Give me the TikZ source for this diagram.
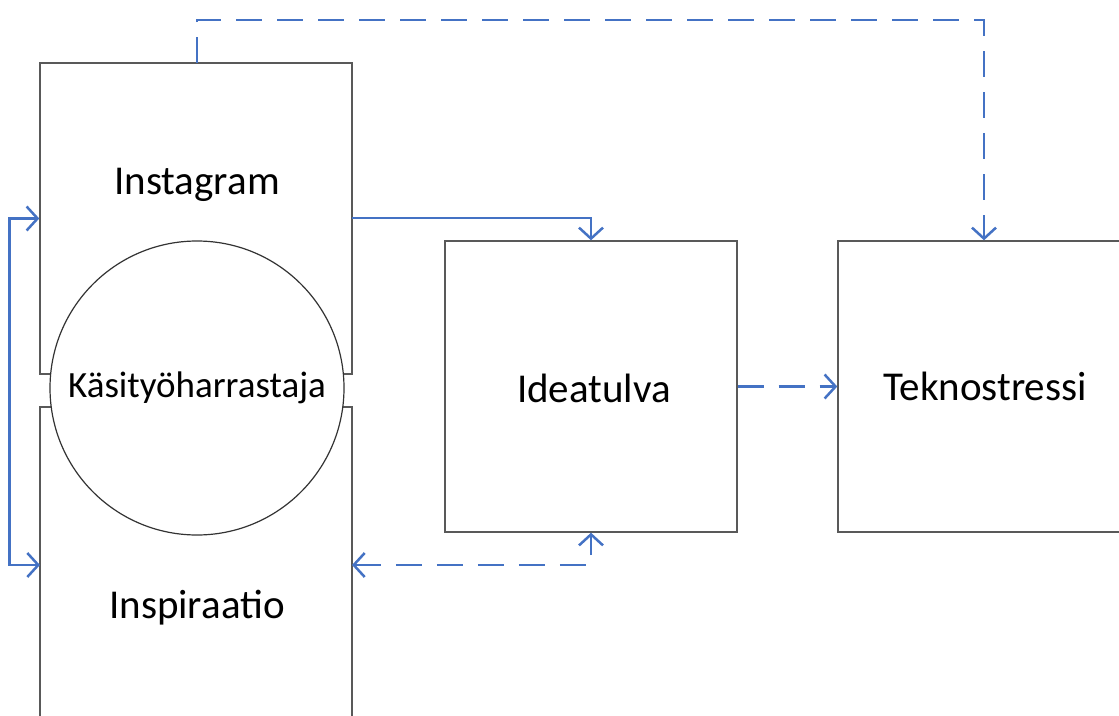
\documentclass[tikz,border=0pt]{standalone}
\usepackage{fontspec}
\setmainfont{Carlito}
\usetikzlibrary{arrows.meta}
\definecolor{linkblue}{HTML}{4472C4}
\tikzset{
  box/.style={draw=black!65, line width=1.4pt, fill=white, inner sep=0pt},
  ball/.style={circle, draw=black!80, line width=1.2pt, fill=white, minimum size=294pt, inner sep=0pt},
  caption/.style={font=\fontsize{41}{48}\selectfont},
  link/.style={draw=linkblue, line width=2.5pt, -{Straight Barb[length=11pt,width=24pt]}},
  dlink/.style={link, dash pattern=on 26pt off 15pt}
}
\begin{document}
\begin{tikzpicture}[x=1pt,y=-1pt]
  \useasboundingbox (0,0) rectangle (1119,715);
  \clip (0,0) rectangle (1119,715);
  % boxes
  \node [box, minimum width=312pt, minimum height=311pt] (insta) at (196,218.5) {};
  \node [box, minimum width=312pt, minimum height=353pt] (insp) at (196,583.5) {};
  \node [ball] (craft) at (197,388) {};
  \node [box, minimum width=292pt, minimum height=291pt] (idea) at (591,386.5) {};
  \node [box, minimum width=292pt, minimum height=291pt] (stress) at (984,386.5) {};
  % texts
  \node [caption] (instatext) at (197,185) {Instagram};
  \node [caption] (insptext) at (197,608) {Inspiraatio};
  \node [font=\fontsize{37}{44}\selectfont] (crafttext) at (197,388) {Käsityöharrastaja};
  \node [caption] (ideatext) at (594,388) {Ideatulva};
  \node [caption] (stresstext) at (985,386) {Teknostressi};
  % connectors
  \coordinate (inspin) at (40,565);
  \coordinate (inspout) at (352,565);
  \coordinate (instaout) at (352,218);
  \coordinate (instatop) at (197,63);
  \draw [link, {Straight Barb[length=11pt,width=24pt]}-{Straight Barb[length=11pt,width=24pt]}] (insta.west) -- ++(-30,0) |- (inspin);
  \draw [link] (instaout) -| (idea.north);
  \draw [dlink] (instatop) -- (197,20) -| (stress.north);
  \draw [dlink] (idea.east) -- (stress.west);
  \draw [dlink, {Straight Barb[length=11pt,width=24pt]}-{Straight Barb[length=11pt,width=24pt]}] (inspout) -| (idea.south);
\end{tikzpicture}
\end{document}
